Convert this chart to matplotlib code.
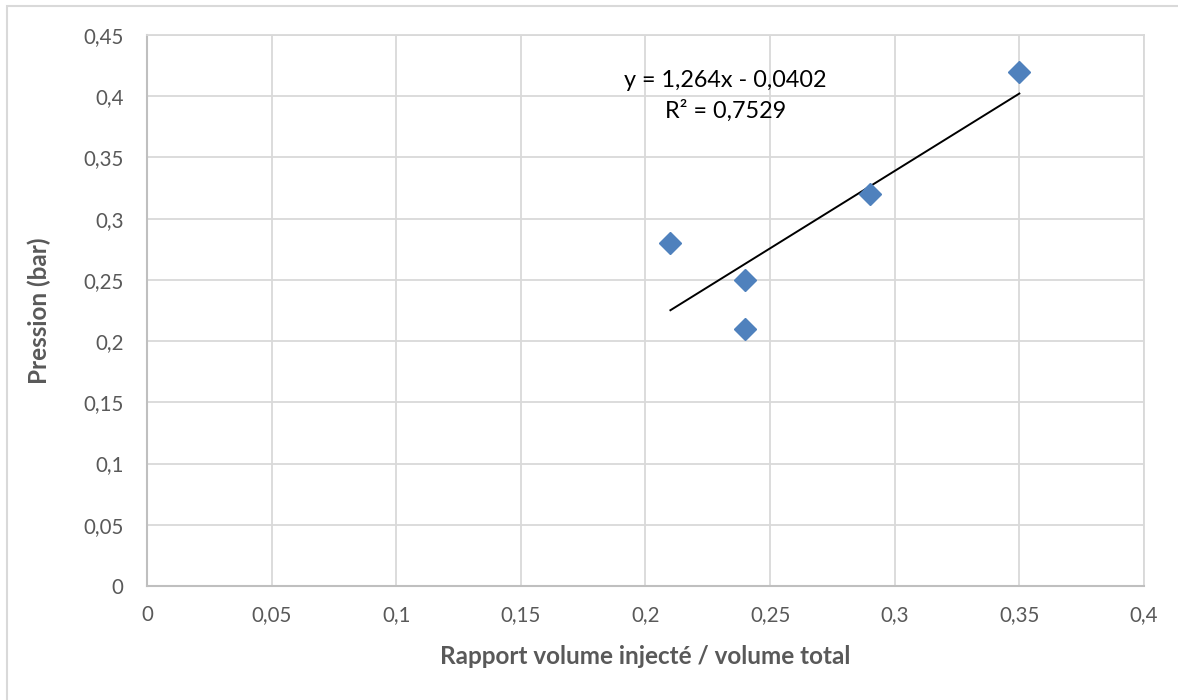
import numpy as np
import matplotlib.pyplot as plt
from matplotlib.patches import Rectangle
from matplotlib.ticker import FuncFormatter, MultipleLocator

plt.rcParams['font.family'] = ['Lato', 'DejaVu Sans']

# data
ratio = [0.21, 0.24, 0.24, 0.29, 0.35]
pressure = [0.28, 0.25, 0.21, 0.32, 0.42]

GRID = '#D9D9D9'
AXIS = '#BFBFBF'
TXT = '#595959'
BLUE = '#4F81BD'

fig = plt.figure(figsize=(11.78, 7.0), dpi=100)
ax = fig.add_axes([0.1248, 0.1629, 0.8463, 0.7871])

# linear trend (same as excel)
x = np.array(ratio)
y = np.array(pressure)
slope, intercept = np.polyfit(x, y, 1)
r2 = np.corrcoef(x, y)[0, 1] ** 2
xs = np.array([x.min(), x.max()])
ax.plot(xs, slope * xs + intercept, color='black', lw=1.4, zorder=3)

ax.plot(ratio, pressure, linestyle='none', marker='D', ms=11,
        color=BLUE, markeredgecolor=BLUE, zorder=4)

ax.set_xlim(0, 0.4)
ax.set_ylim(0, 0.45)
ax.xaxis.set_major_locator(MultipleLocator(0.05))
ax.yaxis.set_major_locator(MultipleLocator(0.05))
fmt = FuncFormatter(lambda v, p: ('%.2f' % v).rstrip('0').rstrip('.').replace('.', ','))
ax.xaxis.set_major_formatter(fmt)
ax.yaxis.set_major_formatter(fmt)

ax.grid(True, color=GRID, lw=1.3)
ax.set_axisbelow(True)
for s in ['top', 'right']:
    ax.spines[s].set_color(GRID)
    ax.spines[s].set_linewidth(1.3)
for s in ['left', 'bottom']:
    ax.spines[s].set_color(AXIS)
    ax.spines[s].set_linewidth(1.5)
ax.tick_params(length=0, labelsize=14.8, labelcolor=TXT)
ax.tick_params(axis='x', pad=14)
ax.tick_params(axis='y', pad=17)

ax.set_xlabel('Rapport volume injecté / volume total', fontsize=17.5,
              fontweight='bold', color=TXT, labelpad=14)
ax.set_ylabel('Pression (bar)', fontsize=17.5, fontweight='bold', color=TXT, labelpad=23)

eq = 'y = %sx - %s' % (('%.3f' % slope).replace('.', ','), ('%.4f' % -intercept).replace('.', ','))
ax.text(0.58, 0.889, eq + '\nR² = ' + ('%.4f' % r2).replace('.', ','),
        transform=ax.transAxes, ha='center', va='center', multialignment='center',
        fontsize=16.8, color='black', linespacing=1.45)

# chart area border
fig.patches.append(Rectangle((7 / 1178, -0.1), 1.2, 1 - 6 / 700 + 0.1,
                             transform=fig.transFigure, fill=False,
                             edgecolor=GRID, lw=1.5))

fig.savefig('out.png', dpi=100)
